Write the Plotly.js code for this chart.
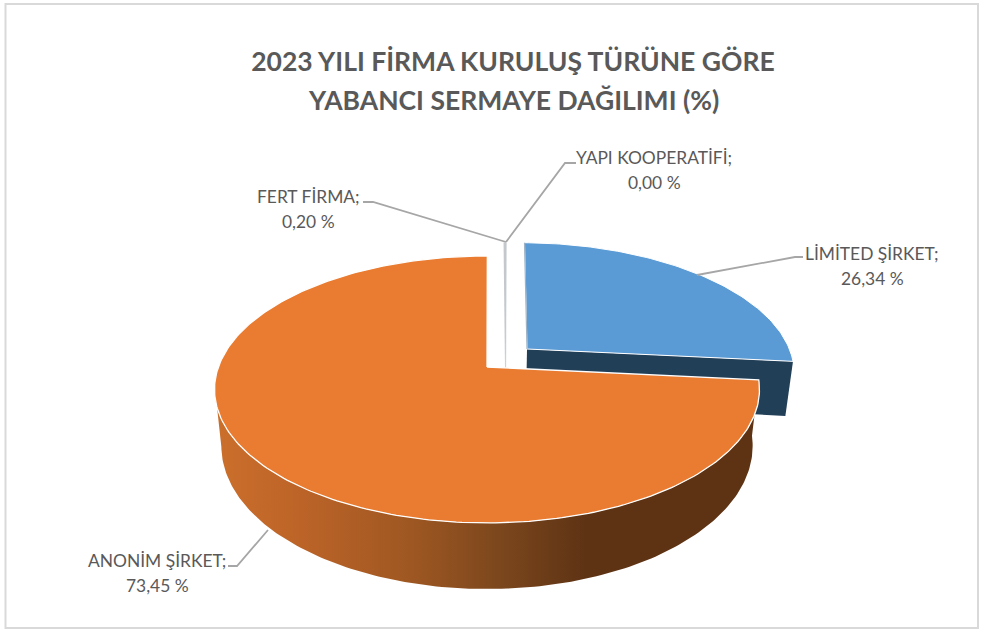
<!DOCTYPE html>
<html><head><meta charset="utf-8">
<script src="https://cdn.plot.ly/plotly-3.0.1.min.js"></script>
<style>html,body{margin:0;padding:0;background:#fff}</style></head>
<body><div id="chart" style="width:984px;height:632px"></div>
<script>
const categories = ["LİMİTED ŞİRKET", "ANONİM ŞİRKET", "FERT FİRMA", "YAPI KOOPERATİFİ"];
const values = [26.34, 73.45, 0.20, 0.00];
const valueLabels = ["26,34 %", "73,45 %", "0,20 %", "0,00 %"];
const titleLine1 = "2023 YILI FİRMA KURULUŞ TÜRÜNE GÖRE";
const titleLine2 = "YABANCI SERMAYE DAĞILIMI (%)";
const labelCenters = [[872, 253, 278], [157, 560, 585], [308, 196, 221], [654, 157, 182]];
const leaderPaths = [
  "M 803 257 L 795 257 L 697 275",
  "M 228 566 L 237 566 L 268 530",
  "M 363 202 L 373 202 L 506 242",
  "M 576 163 L 565 163 L 506 242"
];
const explode = [[0.1525, 0.142], [0, 0], [0.072, 0.142], [0.072, 0.142]];
const firstAngle = 0.8;

// Perspective view of the pie disc
const view = {cx: 487, cy: 367, a: 268.6, b: 129.7, k: 0.168, depth: 55, baseScale: 0.975};
function proj(X, Y, down) {
  const d = 1 + view.k * Y;
  let sx = view.a * X / d, sy = -view.b * Y / d;
  if (down) { sx *= view.baseScale; sy += view.depth / d; }
  return [view.cx + sx, view.cy + sy];
}
function rim(a, e, down) {
  const t = a * Math.PI / 180;
  return proj(Math.sin(t) + e[0], Math.cos(t) + e[1], down);
}
function arc(a0, a1, e, down) {
  const pts = [], n = Math.max(1, Math.ceil(Math.abs(a1 - a0)));
  for (let i = 0; i <= n; i++) pts.push(rim(a0 + (a1 - a0) * i / n, e, down));
  return pts;
}
function area(pts, extra) {
  return Object.assign({type: "scatter", mode: "lines", fill: "toself", hoverinfo: "skip",
    x: pts.map(p => p[0]), y: pts.map(p => p[1]), line: {width: 0}}, extra);
}
const total = values.reduce((s, v) => s + v, 0);
const angles = []; let run = firstAngle;
values.forEach(v => { const s = v / total * 360; angles.push([run, run + s]); run += s; });

const [lim0, lim1] = angles[0], [ano0, ano1] = angles[1];
const [fer0, fer1] = [angles[2][0] - 360, angles[2][1] - 360];
const eL = explode[0], eA = explode[1], eF = explode[2];
const apex = (e, down) => proj(e[0], e[1], down);
const silhouette = 262; // where the wall's outline leaves the disc on the left

const traces = [
  area([apex(eL), rim(lim1, eL), rim(lim1, eL, true), apex(eL, true)], {fillcolor: "#223f58", line: {width: 0}}),
  area([apex(eL), ...arc(lim0, lim1, eL)].concat([apex(eL)]), {fillcolor: "#5b9bd5", line: {width: 1, color: "#ffffff"}}),
  {type: "scatter", mode: "lines", hoverinfo: "skip", x: [rim(lim0, eL)[0], apex(eL)[0]], y: [rim(lim0, eL)[1], apex(eL)[1]], line: {width: 1.2, color: "#9fb4c6"}},
  area([rim(fer0, eF), rim(fer1, eF), apex(eF), apex(eF, true)], {fillcolor: "#c4c8cc", line: {width: 0.5, color: "#c8ccd0"}}),
  area([...arc(ano0, silhouette, eA), ...arc(silhouette, ano0, eA, true)], {
    fillcolor: "#5e3314",
    fillgradient: {type: "horizontal", start: 215, stop: 760, colorscale: [
      [0, "#cb6f2b"], [0.15, "#bd6428"], [0.35, "#a05822"], [0.52, "#7c471d"], [0.68, "#5e3314"], [1, "#5e3314"]]}
  }),
  area([apex(eA), ...arc(ano0, ano1, eA), apex(eA)], {fillcolor: "#ea7c31", line: {width: 1.3, color: "#ffffff"}})
];

const annotations = [];
categories.forEach((c, i) => {
  const [x, y1, y2] = labelCenters[i];
  [[c + ";", y1], [valueLabels[i], y2]].forEach(([text, y]) => annotations.push({
    text, x, y, xref: "x", yref: "y", showarrow: false, xanchor: "center", yanchor: "middle",
    font: {family: "Lato, 'Open Sans', sans-serif", size: 17.4, color: "#595959"}
  }));
});
const titleFont = {family: "Lato, 'Open Sans', sans-serif", size: 26.5, weight: 700, color: "#595959"};
annotations.push({text: titleLine2, x: 513, y: 100, xref: "x", yref: "y", showarrow: false,
  xanchor: "center", yanchor: "middle", font: titleFont});

const layout = {
  width: 984, height: 632, margin: {l: 0, r: 0, t: 0, b: 0},
  paper_bgcolor: "#ffffff", plot_bgcolor: "#ffffff", showlegend: false,
  xaxis: {range: [0, 984], visible: false, fixedrange: true},
  yaxis: {range: [632, 0], visible: false, fixedrange: true},
  title: {text: titleLine1, x: 513 / 984, xanchor: "center", xref: "paper", y: 1 - 62 / 632, yanchor: "middle", yref: "paper",
    font: titleFont},
  annotations,
  shapes: [
    {type: "rect", xref: "x", yref: "y", x0: 5.5, y0: 4, x1: 978, y1: 628, line: {color: "#d9d9d9", width: 2}, layer: "below"},
    ...leaderPaths.map(p => ({type: "path", path: p, xref: "x", yref: "y", line: {color: "#a6a6a6", width: 1.8}}))
  ]
};
Plotly.newPlot("chart", traces.map(t => Object.assign({showlegend: false}, t)), layout, {displayModeBar: false, staticPlot: true});
</script></body></html>
